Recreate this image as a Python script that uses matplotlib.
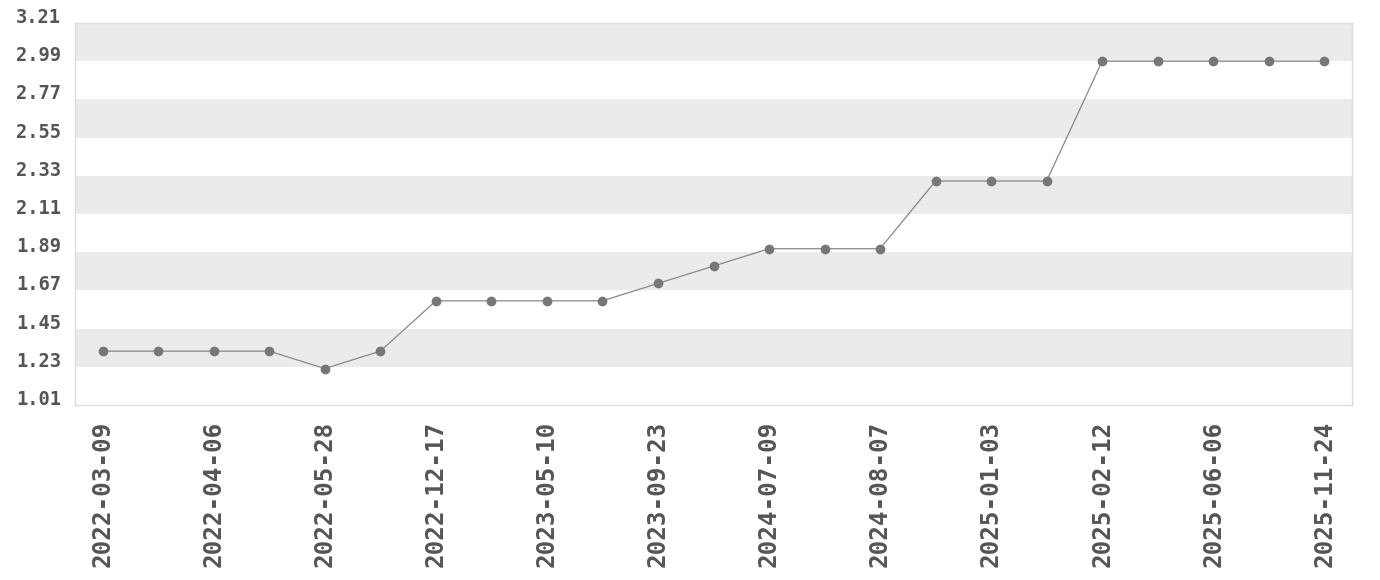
import matplotlib.pyplot as plt

values = [1.32, 1.32, 1.32, 1.32, 1.22, 1.32, 1.61, 1.61, 1.61, 1.61, 1.71, 1.81,
          1.91, 1.91, 1.91, 2.30, 2.30, 2.30, 2.99, 2.99, 2.99, 2.99, 2.99]
date_labels = ['2022-03-09', '2022-04-06', '2022-05-28', '2022-12-17', '2023-05-10',
               '2023-09-23', '2024-07-09', '2024-08-07', '2025-01-03', '2025-02-12',
               '2025-06-06', '2025-11-24']
y_ticks = [1.01, 1.23, 1.45, 1.67, 1.89, 2.11, 2.33, 2.55, 2.77, 2.99, 3.21]

fig = plt.figure(figsize=(13.8, 5.8), dpi=100)
ax = fig.add_axes([75 / 1380, 1 - 405 / 580, (1352 - 75) / 1380, (405 - 23) / 580])

# alternating horizontal bands
for i in range(len(y_ticks) - 1):
    if (len(y_ticks) - 2 - i) % 2 == 0:
        ax.axhspan(y_ticks[i], y_ticks[i + 1], color='#ebebeb', lw=0, zorder=0)

x = list(range(len(values)))
ax.plot(x, values, color='#888888', lw=0.9, marker='o', markersize=6,
        markerfacecolor='#777777', markeredgecolor='#777777', zorder=3)

ax.set_xlim(-0.5, len(values) - 0.5)
ax.set_ylim(y_ticks[0], y_ticks[-1])
ax.set_xticks(x[::2])
ax.set_xticklabels(date_labels, rotation=90, fontsize=17.5, fontweight='bold',
                   family='DejaVu Sans Mono', color='#555555')
ax.set_yticks(y_ticks)
ax.set_yticklabels([f'{v:.2f}' for v in y_ticks], fontsize=13.5, fontweight='bold',
                   family='DejaVu Sans Mono', color='#555555', va='baseline')
ax.tick_params(axis='both', length=0)
ax.tick_params(axis='x', pad=11)
ax.tick_params(axis='y', pad=10)

for s in ax.spines.values():
    s.set_color('#dddddd')
    s.set_linewidth(1)

fig.savefig('out.png', dpi=100)
